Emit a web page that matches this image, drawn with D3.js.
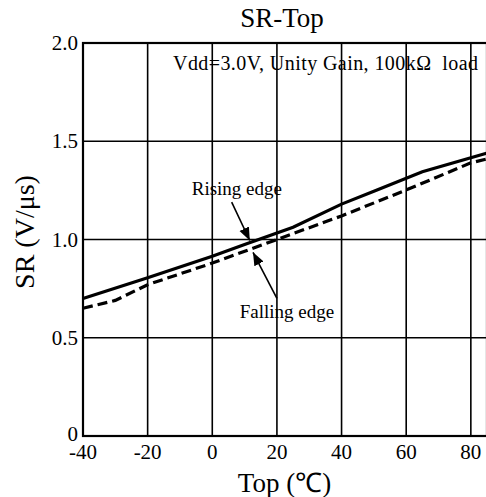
<!DOCTYPE html>
<html>
<head>
<meta charset="utf-8">
<script src="https://cdn.jsdelivr.net/npm/d3@7"></script>
<style>
  body { margin: 0; background: #fff; }
  svg { display: block; font-family: "Liberation Serif", "Times New Roman", serif; }
</style>
</head>
<body>
<div id="chart"></div>
<script>
// SR vs Top data
const risingTemp = [-40, -20, 0, 10, 25, 40, 50, 65, 85];
const risingSR = [0.70, 0.805, 0.915, 0.975, 1.062, 1.18, 1.245, 1.345, 1.44];
const fallingTemp = [-40, -30, -20, 0, 20, 40, 60, 80, 85];
const fallingSR = [0.65, 0.69, 0.77, 0.88, 1.0, 1.12, 1.252, 1.39, 1.41];

const xTicks = [-40, -20, 0, 20, 40, 60, 80];
const yTicks = [0, 0.5, 1.0, 1.5, 2.0];
const yTickLabels = ['0', '0.5', '1.0', '1.5', '2.0'];

const W = 486, H = 497;
const plot = { left: 83, top: 43, right: 487, bottom: 436 };

const svg = d3.select('#chart').append('svg')
    .attr('width', W).attr('height', H);

const x = d3.scaleLinear().domain([-40, 85]).range([plot.left, plot.right]);
const y = d3.scaleLinear().domain([0, 2]).range([plot.bottom, plot.top]);

// grid
svg.append('g').selectAll('line').data(xTicks.slice(1)).join('line')
    .attr('x1', d => x(d)).attr('x2', d => x(d))
    .attr('y1', plot.top).attr('y2', plot.bottom)
    .attr('stroke', '#000').attr('stroke-width', 1.6);
svg.append('g').selectAll('line').data(yTicks.slice(1, -1)).join('line')
    .attr('x1', plot.left).attr('x2', plot.right)
    .attr('y1', d => y(d)).attr('y2', d => y(d))
    .attr('stroke', '#000').attr('stroke-width', 1.6);

// frame
svg.append('rect')
    .attr('x', plot.left).attr('y', plot.top)
    .attr('width', plot.right - plot.left).attr('height', plot.bottom - plot.top)
    .attr('fill', 'none').attr('stroke', '#000').attr('stroke-width', 2.2);

// tick labels
svg.append('g').selectAll('text').data(xTicks).join('text')
    .attr('x', d => x(d)).attr('y', plot.bottom + 23)
    .attr('text-anchor', 'middle')
    .style('font-size', '21px')
    .text(d => d);
svg.append('g').selectAll('text').data(yTicks).join('text')
    .attr('x', plot.left - 5).attr('y', d => y(d) + (d === 0 ? 5 : 7))
    .attr('text-anchor', 'end')
    .style('font-size', '21px')
    .text((d, i) => yTickLabels[i]);

// series
const line = d3.line().x(d => x(d[0])).y(d => y(d[1]));
svg.append('path')
    .datum(d3.zip(risingTemp, risingSR))
    .attr('d', line).attr('fill', 'none')
    .attr('stroke', '#000').attr('stroke-width', 3.2);
svg.append('path')
    .datum(d3.zip(fallingTemp, fallingSR))
    .attr('d', line).attr('fill', 'none')
    .attr('stroke', '#000').attr('stroke-width', 3.2)
    .attr('stroke-dasharray', '10,5');

// arrows
svg.append('defs').append('marker')
    .attr('id', 'ah').attr('viewBox', '0 0 10 10')
    .attr('refX', 10).attr('refY', 5)
    .attr('markerWidth', 13).attr('markerHeight', 13)
    .attr('markerUnits', 'userSpaceOnUse')
    .attr('orient', 'auto')
    .append('path').attr('d', 'M0,1 L10,5 L0,9 Z').attr('fill', '#000');

const arrows = [
    { from: [6.0, 1.19], to: [11.6, 0.995] },
    { from: [20.0, 0.70], to: [12.6, 0.935] }
];
svg.append('g').selectAll('line').data(arrows).join('line')
    .attr('x1', d => x(d.from[0])).attr('y1', d => y(d.from[1]))
    .attr('x2', d => x(d.to[0])).attr('y2', d => y(d.to[1]))
    .attr('stroke', '#000').attr('stroke-width', 1.6)
    .attr('marker-end', 'url(#ah)');

svg.append('text')
    .attr('x', x(7.6)).attr('y', y(1.226))
    .attr('text-anchor', 'middle').style('font-size', '19px')
    .text('Rising edge');
svg.append('text')
    .attr('x', x(23.1)).attr('y', y(0.60))
    .attr('text-anchor', 'middle').style('font-size', '19px')
    .text('Falling edge');

// condition note
svg.append('text')
    .attr('x', 173).attr('y', plot.top + 27)
    .style('font-size', '20px')
    .style('white-space', 'pre')
    .attr('textLength', 305).attr('lengthAdjust', 'spacing')
    .text('Vdd=3.0V, Unity Gain, 100kΩ  load');

// titles
svg.append('text')
    .attr('x', 282).attr('y', 27)
    .attr('text-anchor', 'middle').style('font-size', '27px')
    .text('SR-Top');
svg.append('text')
    .attr('x', (plot.left + W) / 2).attr('y', 492)
    .attr('text-anchor', 'middle').style('font-size', '27px')
    .text('Top (℃)');
svg.append('text')
    .attr('transform', `translate(34, 232) rotate(-90)`)
    .attr('text-anchor', 'middle').style('font-size', '28px')
    .text('SR (V/μs)');
</script>
</body>
</html>
